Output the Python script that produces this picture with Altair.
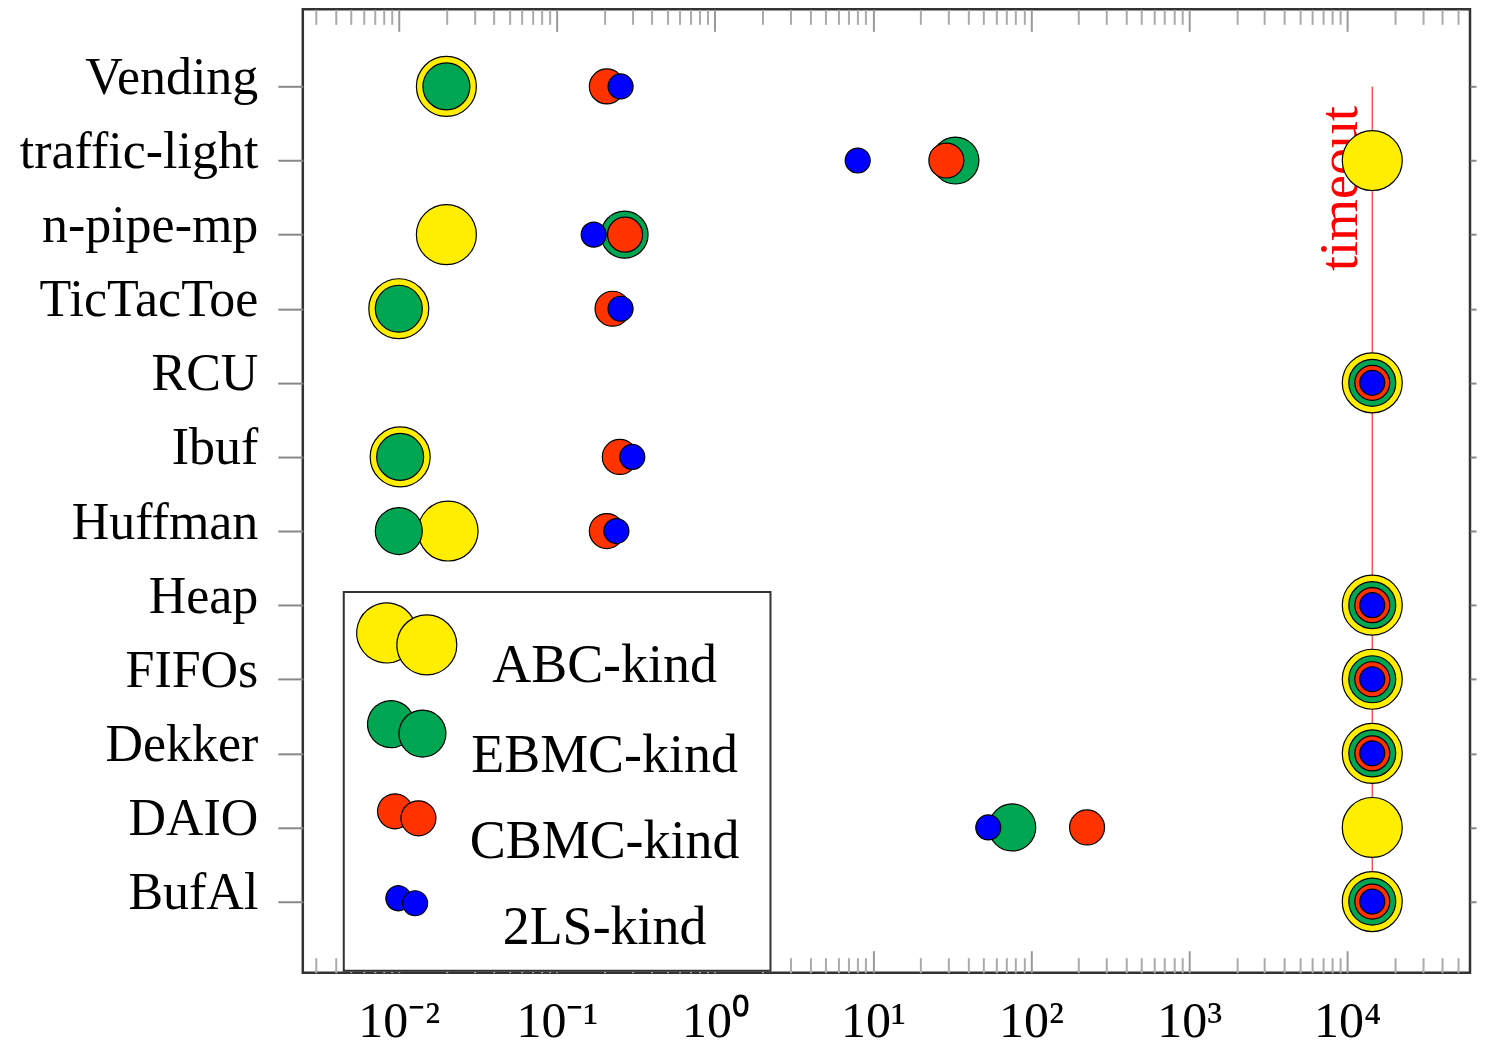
import altair as alt
import pandas as pd

benchmarks = ["Vending", "traffic-light", "n-pipe-mp", "TicTacToe", "RCU", "Ibuf",
              "Huffman", "Heap", "FIFOs", "Dekker", "DAIO", "BufAl"]
tools = ["ABC-kind", "EBMC-kind", "CBMC-kind", "2LS-kind"]
TIMEOUT = 14400

abc_times = [0.02, TIMEOUT, 0.02, 0.01, TIMEOUT, 0.0102, 0.0205, TIMEOUT, TIMEOUT, TIMEOUT, TIMEOUT, TIMEOUT]
ebmc_times = [0.02, 33.2, 0.268, 0.01, TIMEOUT, 0.0102, 0.01, TIMEOUT, TIMEOUT, TIMEOUT, 76, TIMEOUT]
cbmc_times = [0.207, 29.1, 0.27, 0.225, TIMEOUT, 0.25, 0.207, TIMEOUT, TIMEOUT, TIMEOUT, 226, TIMEOUT]
tls_times = [0.253, 8.0, 0.171, 0.253, TIMEOUT, 0.30, 0.238, TIMEOUT, TIMEOUT, TIMEOUT, 53.6, TIMEOUT]

tool_colors = ["#FFEE00", "#00A651", "#FF3300", "#0000FF"]
tool_sizes = [3600, 2209, 1225, 625]

x_tick_values = [0.01, 0.1, 1, 10, 100, 1000, 10000]
x_tick_labels = ["10⁻²", "10⁻¹", "10⁰", "10¹", "10²", "10³", "10⁴"]
x_minor_values = [k * 10.0 ** d for d in range(-3, 5) for k in range(2, 10)
                  if 0.00247 <= k * 10.0 ** d <= 59800]

rows = []
for tool, times in zip(tools, [abc_times, ebmc_times, cbmc_times, tls_times]):
    for b, t in zip(benchmarks, times):
        rows.append({"bench": b, "tool": tool, "time": t})
df = pd.DataFrame(rows)
df_fast = df[df["time"] < TIMEOUT]
df_to = df[df["time"] >= TIMEOUT]

rule_df = pd.DataFrame({"t": [TIMEOUT], "b1": ["Vending"], "b2": ["BufAl"],
                        "lab": ["timeout"], "bt": ["traffic-light"]})

FONT = "Liberation Serif"
xscale = alt.Scale(type="log", domain=[0.00247, 59800], nice=False)
yscale = alt.Scale(type="point", domain=benchmarks, padding=1, align=0.52, round=False)
two_circles = ("M -0.2046 0.6853 A 1 1 0 1 1 0.2046 -0.6853 A 1 1 0 0 0 -0.2046 0.6853 Z "
               "M 1.67 0.2 A 1 1 0 1 1 -0.33 0.2 A 1 1 0 1 1 1.67 0.2 Z")
legend = alt.Legend(title="I", titleOrient="right", titleColor="white", titleFontSize=16,
                    titlePadding=10,
                    orient="none", legendX=41, legendY=583,
                    symbolType=two_circles, symbolStrokeColor="black", symbolStrokeWidth=1.2,
                    labelFont=FONT, labelFontSize=54, labelColor="black",
                    labelAlign="center", labelBaseline="top", labelOffset=167,
                    labelLimit=500, symbolOffset=16, padding=16, rowPadding=5,
                    fillColor="white", strokeColor="#333")
color = alt.Color("tool:N", scale=alt.Scale(domain=tools, range=tool_colors), legend=legend)
size = alt.Size("tool:N", scale=alt.Scale(type="ordinal", domain=tools, range=tool_sizes), legend=legend)

label_expr = "[" + ",".join("'" + s + "'" for s in x_tick_labels) + "][round(log(datum.value)/LN10)+2]"

ax_bottom_major = alt.Axis(orient="bottom", values=x_tick_values, labelExpr=label_expr,
                           offset=-22, tickSize=22, tickColor="#999", tickWidth=2,
                           domain=False, grid=False, title=None, labelFont=FONT,
                           labelFontSize=50, labelColor="black", labelPadding=24,
                           labelBaseline="top", labelFlush=False, labelOverlap=False)
ax_bottom_minor = alt.Axis(orient="bottom", values=x_minor_values, labels=False,
                           offset=-15, tickSize=15, tickColor="#aaa", tickWidth=2,
                           domain=False, grid=False, title=None)
ax_top_major = alt.Axis(orient="top", values=x_tick_values, labels=False,
                        offset=-22, tickSize=22, tickColor="#999", tickWidth=2,
                        domain=False, grid=False, title=None)
ax_top_minor = alt.Axis(orient="top", values=x_minor_values, labels=False,
                        offset=-15, tickSize=15, tickColor="#aaa", tickWidth=2,
                        domain=False, grid=False, title=None)
ax_left = alt.Axis(orient="left", tickSize=25, tickColor="#888", tickWidth=2,
                   domain=False, grid=False, title=None, labelFont=FONT,
                   labelFontSize=52, labelColor="black", labelPadding=20,
                   labelBaseline="alphabetic", labelOffset=7, labelLimit=500)
ax_right = alt.Axis(orient="right", tickSize=6, tickColor="#888", tickWidth=2,
                    domain=False, grid=False, title=None, labels=False)

rule = alt.Chart(rule_df).mark_rule(color="#FF4040", strokeWidth=1.3).encode(
    x=alt.X("t:Q", scale=xscale, axis=ax_bottom_minor),
    y=alt.Y("b1:N", scale=yscale, axis=None),
    y2="b2:N",
)
text = alt.Chart(rule_df).mark_text(angle=270, color="#FF0000", font=FONT, fontSize=54,
                                    align="center", baseline="alphabetic",
                                    dx=-28, dy=-15).encode(
    x=alt.X("t:Q", scale=xscale, axis=ax_top_minor),
    y=alt.Y("bt:N", scale=yscale, axis=None),
    text="lab:N",
)
pts_fast = alt.Chart(df_fast).mark_circle(opacity=1, stroke="black", strokeWidth=1.2).encode(
    x=alt.X("time:Q", scale=xscale, axis=ax_bottom_major),
    y=alt.Y("bench:N", scale=yscale, axis=ax_left),
    color=color, size=size,
)
pts_to = alt.Chart(df_to).mark_circle(opacity=1, stroke="black", strokeWidth=1.2).encode(
    x=alt.X("time:Q", scale=xscale, axis=ax_top_major),
    y=alt.Y("bench:N", scale=yscale, axis=ax_right),
    color=color, size=size,
)

chart = alt.layer(rule, text, pts_fast, pts_to).resolve_axis(
    x="independent", y="independent"
).properties(
    width=1168, height=964,
    padding={"left": 11, "top": 0, "right": 0, "bottom": 0},
).configure_view(stroke="#333", strokeWidth=2.5).configure_legend(strokeWidth=2)

chart.save("out.html", embed_options={"renderer": "svg", "actions": False})
